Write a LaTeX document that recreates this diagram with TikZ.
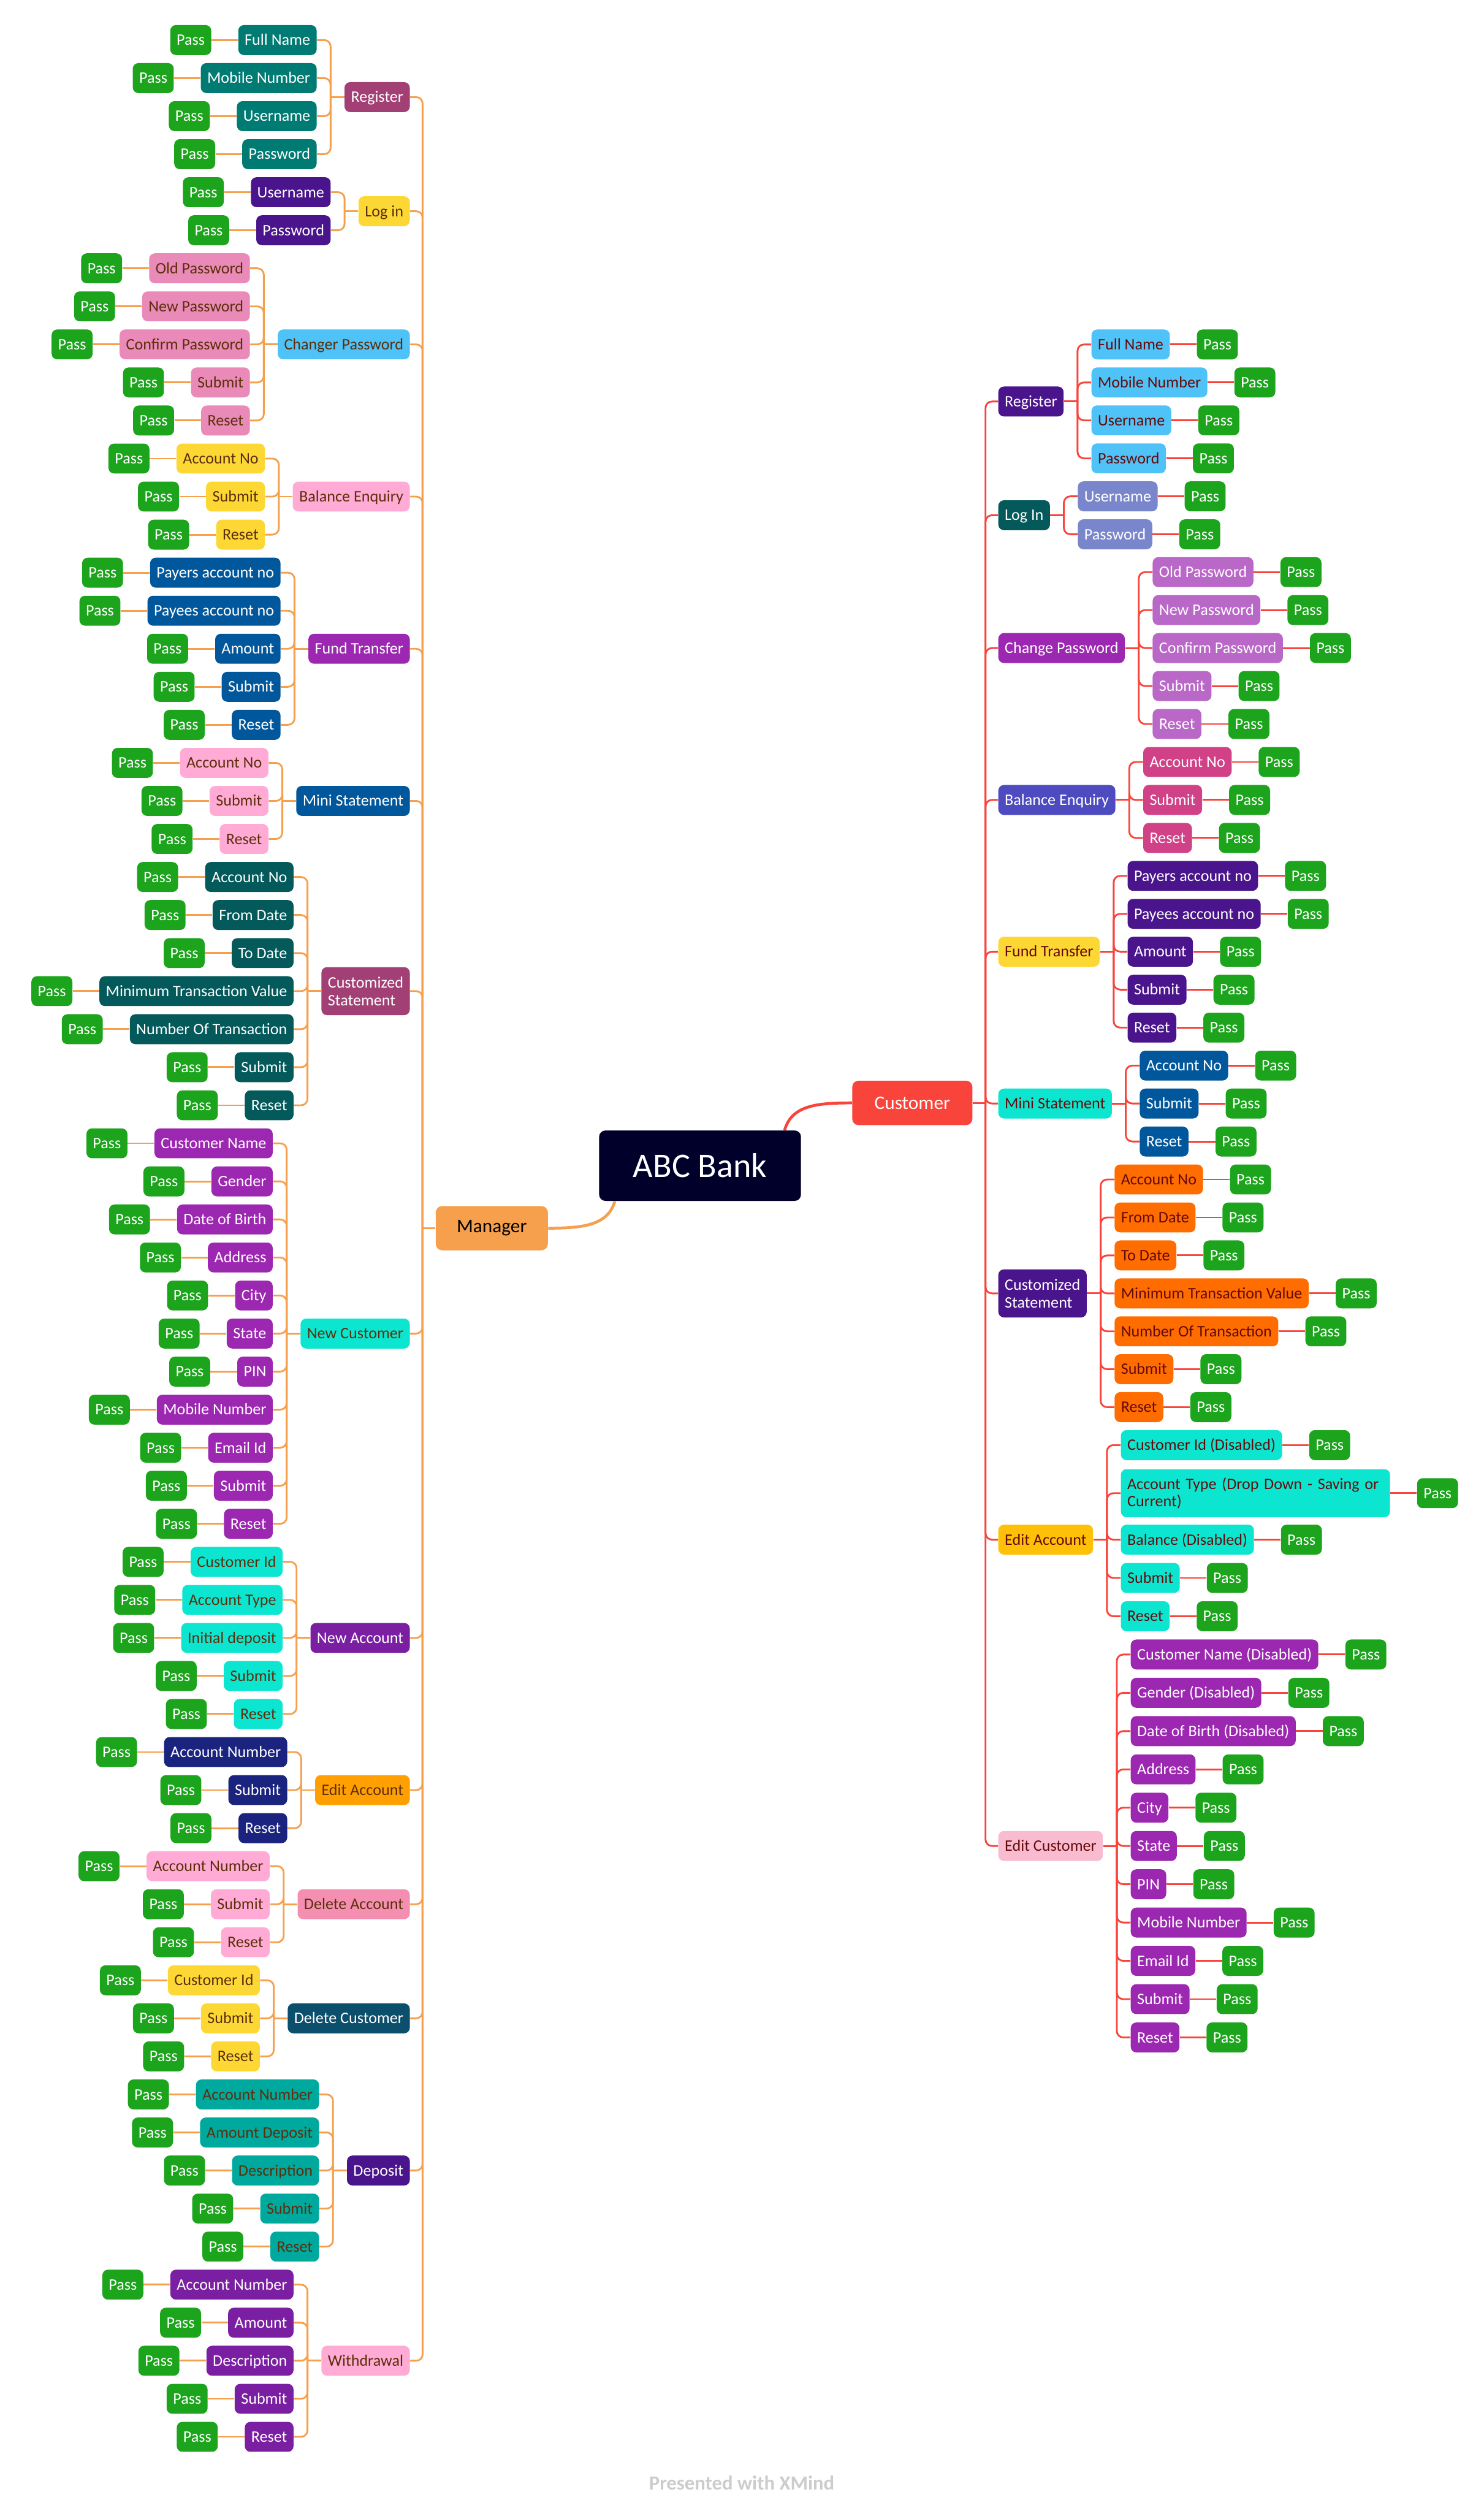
\documentclass[tikz,border=0pt]{standalone}
\usepackage{fontspec}
\setmainfont{Carlito}
\usetikzlibrary{calc}
\definecolor{cpass}{HTML}{1CA41C}
\definecolor{teal1}{HTML}{007B73}
\definecolor{regl}{HTML}{A23F74}
\definecolor{yel}{HTML}{FDD835}
\definecolor{dpur}{HTML}{4A148C}
\definecolor{lblue}{HTML}{4FC3F7}
\definecolor{pink1}{HTML}{EA8AB8}
\definecolor{lpink}{HTML}{FFABD5}
\definecolor{pur}{HTML}{9C27B0}
\definecolor{dblue}{HTML}{01579B}
\definecolor{dteal}{HTML}{04595B}
\definecolor{turq}{HTML}{0CE6D0}
\definecolor{pur2}{HTML}{7B1FA2}
\definecolor{navyc}{HTML}{1A237E}
\definecolor{amber}{HTML}{FFA000}
\definecolor{teal2}{HTML}{00A99D}
\definecolor{peri}{HTML}{7986CB}
\definecolor{orchid}{HTML}{BA68C8}
\definecolor{indigoc}{HTML}{4E4BC0}
\definecolor{magc}{HTML}{D04187}
\definecolor{orng}{HTML}{FF6D00}
\definecolor{amber2}{HTML}{FFC107}
\definecolor{delacc}{HTML}{F48FB1}
\definecolor{delcust}{HTML}{0B4F6C}
\definecolor{lpink3}{HTML}{F8BBD0}
\definecolor{mgrc}{HTML}{F6A04D}
\definecolor{custc}{HTML}{F9443B}
\definecolor{rootc}{HTML}{00002A}
\definecolor{brownT}{HTML}{5C2E0A}
\definecolor{maroonT}{HTML}{650A0A}
\definecolor{footc}{HTML}{CCCCCC}

% left parent: name, text, style, first index, last index
\newcommand{\LP}[5]{%
  \pgfmathsetmacro\myY{25+23.746*(#4+#5)/2}%
  \node[#3, anchor=east] (#1) at (256,\myY) {#2};
  \draw[lcon, rounded corners=4pt] (#1.east) -| (mtrunk);
  \draw[lcon] (#1.west) -- ++(-8.5,0);
}
% left leaf: parent, index, text, style
\newcommand{\LL}[4]{%
  \pgfmathsetmacro\myY{25+23.746*#2}%
  \node[#4, anchor=east] (l#2) at ($(#1.west |- 0,\myY)+(-17,0)$) {#3};
  \node[pass, anchor=east] (l#2p) at ($(l#2.west)+(-16.5,0)$) {Pass};
  \draw[lcon] (l#2p.east) -- (l#2.west);
  \draw[lcon, rounded corners=4pt] (l#2.east) -| ($(#1.west)+(-8.5,0)$);
}
% right parent: name, text, style, y
\newcommand{\RP}[4]{%
  \node[#3, anchor=west] (#1) at (623,#4) {#2};
  \draw[rcon, rounded corners=4pt] (#1.west) -| (ctrunk);
  \draw[rcon] (#1.east) -- ++(8.5,0);
}
% right leaf: name, parent, y, text, style
\newcommand{\RR}[5]{%
  \node[#5, anchor=west] (#1) at ($(#2.east |- 0,#3)+(17,0)$) {#4};
  \node[pass, anchor=west] (#1p) at ($(#1.east)+(16.5,0)$) {Pass};
  \draw[rcon] (#1.east) -- (#1p.west);
  \draw[rcon, rounded corners=4pt] (#1.west) -| ($(#2.east)+(8.5,0)$);
}

\begin{document}
\begin{tikzpicture}[x=1pt,y=-1pt,
  box/.style={rounded corners=3.5pt, inner xsep=4pt, inner ysep=0pt, minimum height=18.7pt, text height=8.5pt, text depth=2pt, font=\fontsize{10}{11}\selectfont},
  boxtwo/.style={rounded corners=3.5pt, inner xsep=4pt, inner ysep=0pt, minimum height=30pt, align=left, font=\fontsize{10}{11}\selectfont},
  wT/.style={box, fill=#1, text=white},
  bT/.style={box, fill=#1, text=brownT},
  mT/.style={box, fill=#1, text=maroonT},
  wTtwo/.style={boxtwo, fill=#1, text=white},
  mTtwo/.style={boxtwo, fill=#1, text=maroonT},
  pass/.style={box, fill=cpass, text=white},
  lcon/.style={draw=mgrc, line width=1.1pt},
  rcon/.style={draw=custc, line width=1.1pt},
  bignode/.style={rounded corners=4pt, inner sep=0pt}
]
\fill[white] (0,0) rectangle (926,1567.3);
\useasboundingbox (0,0) rectangle (926,1567.3);

\node[bignode, fill=rootc, text=white, minimum width=126pt, minimum height=44pt, font=\fontsize{21.5}{24}\selectfont] (root) at (437,727.6) {ABC Bank};
\node[bignode, fill=mgrc, text=black, minimum width=70pt, minimum height=27.6pt, font=\fontsize{12}{14}\selectfont] (mgr) at (307,766.6) {Manager};
\node[bignode, fill=custc, text=white, minimum width=75pt, minimum height=27.8pt, font=\fontsize{12}{14}\selectfont] (cust) at (569.5,688.4) {Customer};

\draw[lcon, line width=1.8pt] ($(root.south west)+(10,0)$) .. controls +(-4.4,15) and +(22,0) .. (mgr.east);
\draw[rcon, line width=1.8pt] ($(root.north east)+(-10.4,0)$) .. controls +(4.4,-15.5) and +(-22,0) .. (cust.west);

\coordinate (mtrunk) at ($(mgr.west)+(-8,0)$);
\draw[lcon] (mgr.west) -- (mtrunk);
\coordinate (ctrunk) at ($(cust.east)+(8,0)$);
\draw[rcon] (cust.east) -- (ctrunk);

% ===== LEFT (Manager) =====
\LP{lreg}{Register}{wT=regl}{0}{3}
\LL{lreg}{0}{Full Name}{wT=teal1}
\LL{lreg}{1}{Mobile Number}{wT=teal1}
\LL{lreg}{2}{Username}{wT=teal1}
\LL{lreg}{3}{Password}{wT=teal1}

\LP{llog}{Log in}{bT=yel}{4}{5}
\LL{llog}{4}{Username}{wT=dpur}
\LL{llog}{5}{Password}{wT=dpur}

\LP{lchg}{Changer Password}{bT=lblue}{6}{10}
\LL{lchg}{6}{Old Password}{bT=pink1}
\LL{lchg}{7}{New Password}{bT=pink1}
\LL{lchg}{8}{Confirm Password}{bT=pink1}
\LL{lchg}{9}{Submit}{bT=pink1}
\LL{lchg}{10}{Reset}{bT=pink1}

\LP{lbal}{Balance Enquiry}{bT=lpink}{11}{13}
\LL{lbal}{11}{Account No}{bT=yel}
\LL{lbal}{12}{Submit}{bT=yel}
\LL{lbal}{13}{Reset}{bT=yel}

\LP{lfund}{Fund Transfer}{wT=pur}{14}{18}
\LL{lfund}{14}{Payers account no}{wT=dblue}
\LL{lfund}{15}{Payees account no}{wT=dblue}
\LL{lfund}{16}{Amount}{wT=dblue}
\LL{lfund}{17}{Submit}{wT=dblue}
\LL{lfund}{18}{Reset}{wT=dblue}

\LP{lmini}{Mini Statement}{wT=dblue}{19}{21}
\LL{lmini}{19}{Account No}{bT=lpink}
\LL{lmini}{20}{Submit}{bT=lpink}
\LL{lmini}{21}{Reset}{bT=lpink}

\LP{lcust}{Customized\\Statement}{wTtwo=regl}{22}{28}
\LL{lcust}{22}{Account No}{wT=dteal}
\LL{lcust}{23}{From Date}{wT=dteal}
\LL{lcust}{24}{To Date}{wT=dteal}
\LL{lcust}{25}{Minimum Transaction Value}{wT=dteal}
\LL{lcust}{26}{Number Of Transaction}{wT=dteal}
\LL{lcust}{27}{Submit}{wT=dteal}
\LL{lcust}{28}{Reset}{wT=dteal}

\LP{lnewc}{New Customer}{bT=turq}{29}{39}
\LL{lnewc}{29}{Customer Name}{wT=pur}
\LL{lnewc}{30}{Gender}{wT=pur}
\LL{lnewc}{31}{Date of Birth}{wT=pur}
\LL{lnewc}{32}{Address}{wT=pur}
\LL{lnewc}{33}{City}{wT=pur}
\LL{lnewc}{34}{State}{wT=pur}
\LL{lnewc}{35}{PIN}{wT=pur}
\LL{lnewc}{36}{Mobile Number}{wT=pur}
\LL{lnewc}{37}{Email Id}{wT=pur}
\LL{lnewc}{38}{Submit}{wT=pur}
\LL{lnewc}{39}{Reset}{wT=pur}

\LP{lnewa}{New Account}{wT=pur2}{40}{44}
\LL{lnewa}{40}{Customer Id}{bT=turq}
\LL{lnewa}{41}{Account Type}{bT=turq}
\LL{lnewa}{42}{Initial deposit}{bT=turq}
\LL{lnewa}{43}{Submit}{bT=turq}
\LL{lnewa}{44}{Reset}{bT=turq}

\LP{ledit}{Edit Account}{bT=amber}{45}{47}
\LL{ledit}{45}{Account Number}{wT=navyc}
\LL{ledit}{46}{Submit}{wT=navyc}
\LL{ledit}{47}{Reset}{wT=navyc}

\LP{ldela}{Delete Account}{bT=delacc}{48}{50}
\LL{ldela}{48}{Account Number}{bT=lpink}
\LL{ldela}{49}{Submit}{bT=lpink}
\LL{ldela}{50}{Reset}{bT=lpink}

\LP{ldelc}{Delete Customer}{wT=delcust}{51}{53}
\LL{ldelc}{51}{Customer Id}{bT=yel}
\LL{ldelc}{52}{Submit}{bT=yel}
\LL{ldelc}{53}{Reset}{bT=yel}

\LP{ldep}{Deposit}{wT=dpur}{54}{58}
\LL{ldep}{54}{Account Number}{bT=teal2}
\LL{ldep}{55}{Amount Deposit}{bT=teal2}
\LL{ldep}{56}{Description}{bT=teal2}
\LL{ldep}{57}{Submit}{bT=teal2}
\LL{ldep}{58}{Reset}{bT=teal2}

\LP{lwd}{Withdrawal}{bT=lpink}{59}{63}
\LL{lwd}{59}{Account Number}{wT=pur2}
\LL{lwd}{60}{Amount}{wT=pur2}
\LL{lwd}{61}{Description}{wT=pur2}
\LL{lwd}{62}{Submit}{wT=pur2}
\LL{lwd}{63}{Reset}{wT=pur2}

% ===== RIGHT (Customer) =====
\RP{rreg}{Register}{wT=dpur}{250.6}
\RR{r1}{rreg}{215.0}{Full Name}{mT=lblue}
\RR{r2}{rreg}{238.7}{Mobile Number}{mT=lblue}
\RR{r3}{rreg}{262.4}{Username}{mT=lblue}
\RR{r4}{rreg}{286.1}{Password}{mT=lblue}

\RP{rlog}{Log In}{wT=dteal}{321.6}
\RR{r5}{rlog}{309.8}{Username}{wT=peri}
\RR{r6}{rlog}{333.5}{Password}{wT=peri}

\RP{rchg}{Change Password}{wT=pur}{404.5}
\RR{r7}{rchg}{357.1}{Old Password}{wT=orchid}
\RR{r8}{rchg}{380.8}{New Password}{wT=orchid}
\RR{r9}{rchg}{404.5}{Confirm Password}{wT=orchid}
\RR{r10}{rchg}{428.2}{Submit}{wT=orchid}
\RR{r11}{rchg}{451.9}{Reset}{wT=orchid}

\RP{rbal}{Balance Enquiry}{wT=indigoc}{499.3}
\RR{r12}{rbal}{475.6}{Account No}{wT=magc}
\RR{r13}{rbal}{499.3}{Submit}{wT=magc}
\RR{r14}{rbal}{523.0}{Reset}{wT=magc}

\RP{rfund}{Fund Transfer}{mT=yel}{594.0}
\RR{r15}{rfund}{546.7}{Payers account no}{wT=dpur}
\RR{r16}{rfund}{570.4}{Payees account no}{wT=dpur}
\RR{r17}{rfund}{594.0}{Amount}{wT=dpur}
\RR{r18}{rfund}{617.7}{Submit}{wT=dpur}
\RR{r19}{rfund}{641.4}{Reset}{wT=dpur}

\RP{rmini}{Mini Statement}{mT=turq}{688.8}
\RR{r20}{rmini}{665.1}{Account No}{wT=dblue}
\RR{r21}{rmini}{688.8}{Submit}{wT=dblue}
\RR{r22}{rmini}{712.5}{Reset}{wT=dblue}

\RP{rcust}{Customized\\Statement}{wTtwo=dpur}{807.3}
\RR{r23}{rcust}{736.2}{Account No}{mT=orng}
\RR{r24}{rcust}{759.9}{From Date}{mT=orng}
\RR{r25}{rcust}{783.6}{To Date}{mT=orng}
\RR{r26}{rcust}{807.3}{Minimum Transaction Value}{mT=orng}
\RR{r27}{rcust}{831.0}{Number Of Transaction}{mT=orng}
\RR{r28}{rcust}{854.6}{Submit}{mT=orng}
\RR{r29}{rcust}{878.3}{Reset}{mT=orng}

\RP{redit}{Edit Account}{mT=amber2}{961.0}
\RR{r30}{redit}{902.0}{Customer Id (Disabled)}{mT=turq}
\RR{r31}{redit}{932.0}{Account Type (Drop Down - Saving or\\Current)}{mTtwo=turq, text width=160pt}
\RR{r32}{redit}{961.0}{Balance (Disabled)}{mT=turq}
\RR{r33}{redit}{984.9}{Submit}{mT=turq}
\RR{r34}{redit}{1008.8}{Reset}{mT=turq}

\RP{redc}{Edit Customer}{mT=lpink3}{1152.2}
\RR{r35}{redc}{1032.7}{Customer Name (Disabled)}{wT=pur}
\RR{r36}{redc}{1056.6}{Gender (Disabled)}{wT=pur}
\RR{r37}{redc}{1080.5}{Date of Birth (Disabled)}{wT=pur}
\RR{r38}{redc}{1104.4}{Address}{wT=pur}
\RR{r39}{redc}{1128.3}{City}{wT=pur}
\RR{r40}{redc}{1152.2}{State}{wT=pur}
\RR{r41}{redc}{1176.1}{PIN}{wT=pur}
\RR{r42}{redc}{1200.0}{Mobile Number}{wT=pur}
\RR{r43}{redc}{1223.9}{Email Id}{wT=pur}
\RR{r44}{redc}{1247.8}{Submit}{wT=pur}
\RR{r45}{redc}{1271.7}{Reset}{wT=pur}

\node[anchor=base, text=footc, font=\bfseries\fontsize{12.5}{14}\selectfont] (foot) at (463,1554) {Presented with XMind};
\end{tikzpicture}
\end{document}
